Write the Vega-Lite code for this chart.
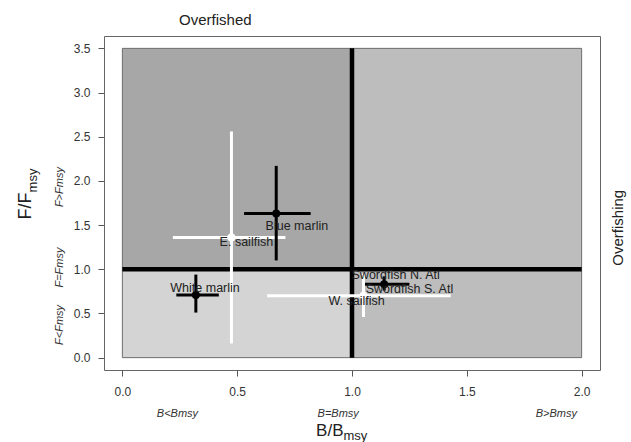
{
  "$schema": "https://vega.github.io/schema/vega-lite/v6.json",
  "width": 496,
  "height": 334,
  "autosize": "none",
  "padding": {"left": 104, "top": 36, "right": 31, "bottom": 72},
  "background": "white",
  "config": {
    "view": {"stroke": "#666", "strokeWidth": 1},
    "font": "Liberation Sans",
    "axis": {"grid": false, "domain": false, "tickSize": 6, "tickColor": "#555", "labelColor": "#333", "labelFontSize": 12, "labelFont": "Liberation Sans"}
  },
  "datasets": {
    "zones": [
      {"x0": 0, "x1": 1, "y0": 1, "y1": 3.5, "fill": "#a7a7a7"},
      {"x0": 1, "x1": 2, "y0": 0, "y1": 3.5, "fill": "#bdbdbd"},
      {"x0": 0, "x1": 1, "y0": 0, "y1": 1, "fill": "#d4d4d4"}
    ],
    "limits": [
      {"x0": 1, "x1": 1, "y0": 0, "y1": 3.5},
      {"x0": 0, "x1": 2, "y0": 1, "y1": 1}
    ],
    "stocks": [
      {"name": "Blue marlin", "x": 0.67, "y": 1.63, "xlo": 0.53, "xhi": 0.82, "ylo": 1.1, "yhi": 2.17, "col": "black", "lx": 0.76, "ly": 1.49},
      {"name": "E. sailfish", "x": 0.475, "y": 1.36, "xlo": 0.22, "xhi": 0.71, "ylo": 0.16, "yhi": 2.56, "col": "white", "lx": 0.54, "ly": 1.31},
      {"name": "White marlin", "x": 0.32, "y": 0.71, "xlo": 0.235, "xhi": 0.42, "ylo": 0.51, "yhi": 0.94, "col": "black", "lx": 0.36, "ly": 0.79},
      {"name": "W. sailfish", "x": 1.05, "y": 0.70, "xlo": 0.63, "xhi": 1.43, "ylo": 0.46, "yhi": 0.95, "col": "white", "lx": 1.02, "ly": 0.645},
      {"name": "Swordfish S. Atl", "x": 1.14, "y": 0.83, "xlo": 1.05, "xhi": 1.25, "ylo": 0.76, "yhi": 0.92, "col": "black", "lx": 1.25, "ly": 0.78}
    ],
    "extraLabels": [
      {"name": "Swordfish N. Atl", "lx": 1.19, "ly": 0.94}
    ],
    "xnotes": [
      {"t": "B<Bmsy", "x": 0.24, "y": -0.64},
      {"t": "B=Bmsy", "x": 0.94, "y": -0.64},
      {"t": "B>Bmsy", "x": 1.89, "y": -0.64}
    ],
    "ynotes": [
      {"t": "F>Fmsy", "x": -0.27, "y": 1.93},
      {"t": "F=Fmsy", "x": -0.27, "y": 1.02},
      {"t": "F<Fmsy", "x": -0.27, "y": 0.37}
    ],
    "titles": [
      {"t": "Overfished", "x": 0.405, "y": 3.76}
    ],
    "rtitles": [
      {"t": "Overfishing", "x": 2.157, "y": 1.47}
    ],
    "xtitle": [{"main": "B/B", "sub": "msy", "x": 0.963, "y": -0.885, "ys": -0.935}],
    "ytitle": [{"main": "F/F", "sub": "msy", "x": -0.40, "xs": -0.37, "y": 1.87}]
  },
  "layer": [
    {
      "data": {"name": "zones"},
      "mark": {"type": "rect", "stroke": "#6e6e6e", "strokeWidth": 1},
      "encoding": {
        "x": {"field": "x0", "type": "quantitative", "scale": {"domain": [-0.08, 2.08], "nice": false, "zero": false},
              "axis": {"values": [0, 0.5, 1, 1.5, 2], "format": ".1f", "title": null, "labelPadding": 10}},
        "x2": {"field": "x1"},
        "y": {"field": "y0", "type": "quantitative", "scale": {"domain": [-0.14, 3.64], "nice": false, "zero": false},
              "axis": {"values": [0, 0.5, 1, 1.5, 2, 2.5, 3, 3.5], "format": ".1f", "title": null, "labelPadding": 8}},
        "y2": {"field": "y1"},
        "fill": {"field": "fill", "type": "nominal", "scale": null}
      }
    },
    {
      "data": {"name": "limits"},
      "mark": {"type": "rule", "color": "black", "strokeWidth": 4.5},
      "encoding": {
        "x": {"field": "x0", "type": "quantitative"},
        "x2": {"field": "x1"},
        "y": {"field": "y0", "type": "quantitative"},
        "y2": {"field": "y1"}
      }
    },
    {
      "data": {"name": "stocks"},
      "mark": {"type": "rule", "strokeWidth": 3},
      "encoding": {
        "x": {"field": "xlo", "type": "quantitative"},
        "x2": {"field": "xhi"},
        "y": {"field": "y", "type": "quantitative"},
        "color": {"field": "col", "type": "nominal", "scale": null}
      }
    },
    {
      "data": {"name": "stocks"},
      "mark": {"type": "rule", "strokeWidth": 3},
      "encoding": {
        "x": {"field": "x", "type": "quantitative"},
        "y": {"field": "ylo", "type": "quantitative"},
        "y2": {"field": "yhi"},
        "color": {"field": "col", "type": "nominal", "scale": null}
      }
    },
    {
      "data": {"name": "stocks"},
      "mark": {"type": "circle", "size": 64, "opacity": 1},
      "encoding": {
        "x": {"field": "x", "type": "quantitative"},
        "y": {"field": "y", "type": "quantitative"},
        "color": {"field": "col", "type": "nominal", "scale": null}
      }
    },
    {
      "data": {"name": "stocks"},
      "mark": {"type": "text", "fontSize": 12.5, "color": "#222", "baseline": "middle"},
      "encoding": {
        "x": {"field": "lx", "type": "quantitative"},
        "y": {"field": "ly", "type": "quantitative"},
        "text": {"field": "name"}
      }
    },
    {
      "data": {"name": "extraLabels"},
      "mark": {"type": "text", "fontSize": 12.5, "color": "#222", "baseline": "middle"},
      "encoding": {
        "x": {"field": "lx", "type": "quantitative"},
        "y": {"field": "ly", "type": "quantitative"},
        "text": {"field": "name"}
      }
    },
    {
      "data": {"name": "xnotes"},
      "mark": {"type": "text", "fontSize": 11, "fontStyle": "italic", "color": "#333", "baseline": "middle", "clip": false},
      "encoding": {
        "x": {"field": "x", "type": "quantitative"},
        "y": {"field": "y", "type": "quantitative"},
        "text": {"field": "t"}
      }
    },
    {
      "data": {"name": "ynotes"},
      "mark": {"type": "text", "fontSize": 11, "fontStyle": "italic", "color": "#333", "baseline": "middle", "angle": 270, "clip": false},
      "encoding": {
        "x": {"field": "x", "type": "quantitative"},
        "y": {"field": "y", "type": "quantitative"},
        "text": {"field": "t"}
      }
    },
    {
      "data": {"name": "titles"},
      "mark": {"type": "text", "fontSize": 15, "color": "#222", "baseline": "alphabetic", "clip": false},
      "encoding": {
        "x": {"field": "x", "type": "quantitative"},
        "y": {"field": "y", "type": "quantitative"},
        "text": {"field": "t"}
      }
    },
    {
      "data": {"name": "rtitles"},
      "mark": {"type": "text", "fontSize": 15, "color": "#222", "baseline": "middle", "angle": 270, "clip": false},
      "encoding": {
        "x": {"field": "x", "type": "quantitative"},
        "y": {"field": "y", "type": "quantitative"},
        "text": {"field": "t"}
      }
    },
    {
      "data": {"name": "xtitle"},
      "mark": {"type": "text", "fontSize": 17, "color": "#222", "align": "right", "baseline": "alphabetic", "clip": false},
      "encoding": {
        "x": {"field": "x", "type": "quantitative"},
        "y": {"field": "y", "type": "quantitative"},
        "text": {"field": "main"}
      }
    },
    {
      "data": {"name": "xtitle"},
      "mark": {"type": "text", "fontSize": 13, "color": "#222", "align": "left", "baseline": "alphabetic", "clip": false},
      "encoding": {
        "x": {"field": "x", "type": "quantitative"},
        "y": {"field": "ys", "type": "quantitative"},
        "text": {"field": "sub"}
      }
    },
    {
      "data": {"name": "ytitle"},
      "mark": {"type": "text", "fontSize": 18, "color": "#222", "align": "right", "baseline": "alphabetic", "angle": 270, "clip": false},
      "encoding": {
        "x": {"field": "x", "type": "quantitative"},
        "y": {"field": "y", "type": "quantitative"},
        "text": {"field": "main"}
      }
    },
    {
      "data": {"name": "ytitle"},
      "mark": {"type": "text", "fontSize": 13, "color": "#222", "align": "left", "baseline": "alphabetic", "angle": 270, "clip": false},
      "encoding": {
        "x": {"field": "xs", "type": "quantitative"},
        "y": {"field": "y", "type": "quantitative"},
        "text": {"field": "sub"}
      }
    }
  ]
}
